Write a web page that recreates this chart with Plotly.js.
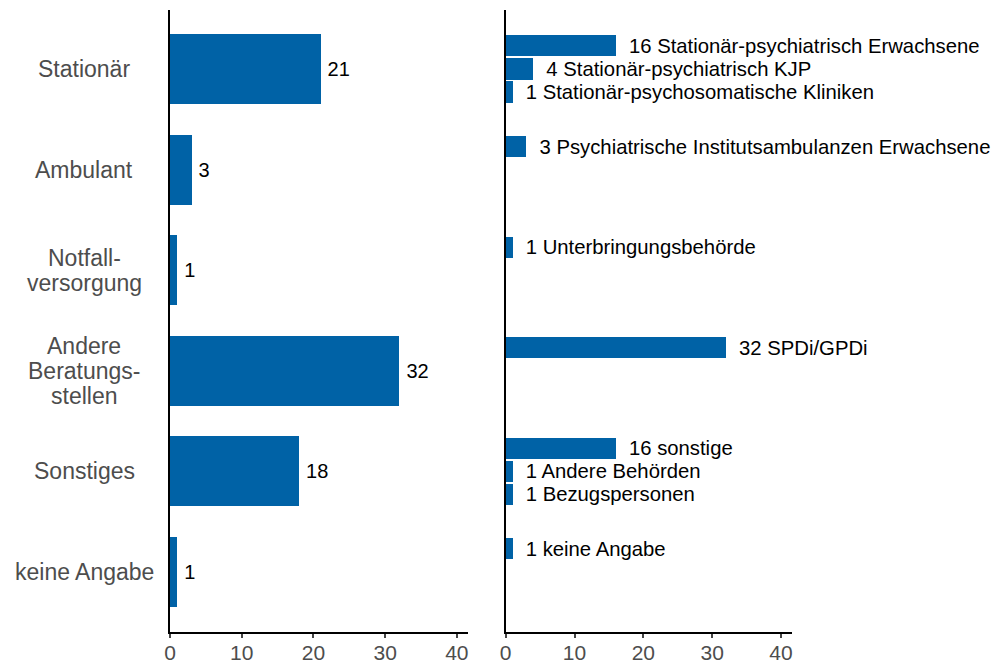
<!DOCTYPE html>
<html>
<head>
<meta charset="utf-8">
<script src="https://cdn.plot.ly/plotly-3.0.1.min.js"></script>
<style>html,body{margin:0;padding:0;background:#fff;}#chart{width:995px;height:663px;}</style>
</head>
<body>
<div id="chart"></div>
<script>
// Left panel: main categories
const categories = ['Stationär', 'Ambulant', 'Notfall-\nversorgung', 'Andere\nBeratungs-\nstellen', 'Sonstiges', 'keine Angabe'];
const categoryValues = [21, 3, 1, 32, 18, 1];

// Right panel: sub-categories
const subLabels = ['Stationär-psychiatrisch Erwachsene', 'Stationär-psychiatrisch KJP', 'Stationär-psychosomatische Kliniken',
  'Psychiatrische Institutsambulanzen Erwachsene', 'Unterbringungsbehörde', 'SPDi/GPDi',
  'sonstige', 'Andere Behörden', 'Bezugspersonen', 'keine Angabe'];
const subValues = [16, 4, 1, 3, 1, 32, 16, 1, 1, 1];
const subGroup = [0, 0, 0, 1, 2, 3, 4, 4, 4, 5];
const subSlot = [0, 1, 2, 0, 0, 0, 0, 1, 2, 0];

const barColor = '#0062a6';
const fontFamily = 'Liberation Sans, Arial, sans-serif';
const slotStep = 0.229;

const groupIdx = categories.map((_, i) => i);
const subY = subGroup.map((g, i) => g + (subSlot[i] - 1) * slotStep);

const traces = [
  {
    type: 'bar', orientation: 'h',
    x: categoryValues, y: groupIdx,
    width: 0.696,
    marker: {color: barColor},
    text: categoryValues.map(v => '\u2009' + v),
    textposition: 'outside', constraintext: 'none', cliponaxis: false,
    textfont: {family: fontFamily, size: 20, color: '#000'},
    xaxis: 'x', yaxis: 'y', hoverinfo: 'none', showlegend: false
  },
  {
    type: 'bar', orientation: 'h',
    x: subValues, y: subY,
    width: 0.21,
    marker: {color: barColor},
    text: subValues.map((v, i) => '\u2002' + v + ' ' + subLabels[i]),
    textposition: 'outside', constraintext: 'none', cliponaxis: false,
    textfont: {family: fontFamily, size: 20.3, color: '#000'},
    xaxis: 'x2', yaxis: 'y2', hoverinfo: 'none', showlegend: false
  }
];

// Category labels as centered multi-line annotations
const annotations = [];
categories.forEach((c, i) => {
  const lines = c.split('\n');
  lines.forEach((ln, k) => {
    annotations.push({
      xref: 'paper', yref: 'y', x: -0.138, y: i,
      xanchor: 'center', yanchor: 'middle',
      yshift: -(k - (lines.length - 1) / 2) * 25,
      text: ln, showarrow: false,
      font: {family: fontFamily, size: 23, color: '#4d4d4d'}
    });
  });
});

const xCommon = {
  range: [0, 41.6], tickvals: [0, 10, 20, 30, 40],
  showgrid: false, zeroline: false,
  showline: true, linecolor: '#000', linewidth: 2,
  ticks: 'outside', ticklen: 4, tickwidth: 2, tickcolor: '#444',
  ticklabelstandoff: -3,
  tickfont: {family: fontFamily, size: 21, color: '#4d4d4d'},
  fixedrange: true
};
const yCommon = {
  range: [5.597, -0.586],
  showgrid: false, zeroline: false,
  showline: true, linecolor: '#000', linewidth: 2,
  ticks: '', showticklabels: false, fixedrange: true
};

const layout = {
  width: 995, height: 663,
  margin: {l: 170, r: 203, t: 10, b: 31},
  paper_bgcolor: '#fff', plot_bgcolor: '#fff',
  font: {family: fontFamily},
  bargap: 0,
  xaxis: Object.assign({}, xCommon, {domain: [0, 0.4796], anchor: 'y'}),
  xaxis2: Object.assign({}, xCommon, {domain: [0.5397, 1], anchor: 'y2'}),
  yaxis: Object.assign({}, yCommon, {anchor: 'x'}),
  yaxis2: Object.assign({}, yCommon, {anchor: 'x2', matches: 'y'}),
  annotations: annotations,
  showlegend: false
};

Plotly.newPlot('chart', traces, layout, {staticPlot: true, displayModeBar: false});
</script>
</body>
</html>
